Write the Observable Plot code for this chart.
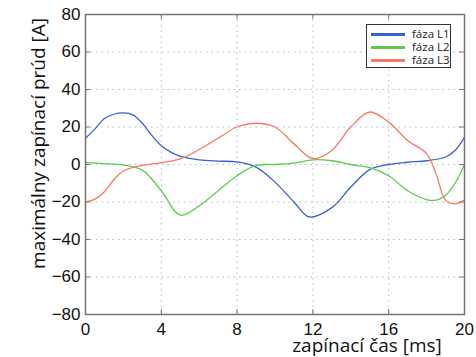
<!DOCTYPE html>
<html>
<head>
<meta charset="utf-8">
<script src="https://cdn.jsdelivr.net/npm/d3@7"></script>
<script src="https://cdn.jsdelivr.net/npm/@observablehq/plot@0.6"></script>
<style>
  html, body { margin: 0; padding: 0; background: #fff; }
  #wrap { position: relative; width: 476px; height: 357px; }
  #legend { position: absolute; left: 366px; top: 24px; width: 85px; height: 44px;
    border: 1px solid #333; background: #fff; font-family: "Open Sans", sans-serif; font-size: 11.5px; color: #222; box-sizing: border-box; }
  .row { position: absolute; left: 4px; height: 13px; line-height: 13px; white-space: nowrap; }
  .sw { display: inline-block; width: 34px; height: 3px; vertical-align: middle; margin-right: 7px; }
</style>
</head>
<body>
<div id="wrap"></div>
<script>
const time1 = [0, 0.5, 1, 1.5, 2, 2.5, 3, 3.5, 4, 4.5, 5, 6, 7, 8, 9, 10, 11, 11.8, 13, 14, 15, 16, 17, 18, 19, 19.5, 20];
const faza1 = [14, 19, 24.5, 26.8, 27.5, 26.5, 22, 15.5, 10, 6.6, 4.3, 2.5, 1.8, 1.4, -1.4, -9.4, -20, -28, -23, -12, -2.7, 0, 1.2, 2, 4, 7.5, 14.5];
const time2 = [0, 1, 2, 3, 4, 5, 6, 7, 8, 9, 10, 11, 12, 13, 14, 15, 16, 17, 18, 18.5, 19, 19.5, 20];
const faza2 = [1, 0.5, -0.3, -3, -14, -27, -22, -14, -6, -0.5, 0, 0.7, 2.5, 2, 0, -1.7, -6, -14, -18.7, -19, -16.5, -10, 0];
const time3 = [0, 0.5, 1, 1.5, 2, 2.5, 3, 4, 5, 6, 7, 8, 9, 10, 11, 12, 13, 14, 15, 16, 17, 18, 18.5, 19, 19.5, 20];
const faza3 = [-20, -18.5, -14.5, -8, -3.5, -1.5, -0.5, 1, 3, 8, 14, 20, 22, 20, 11, 3.2, 7.5, 20, 28, 22.6, 12.8, 5.8, -5, -19, -21, -19];
const seriesNames = ["fáza L1", "fáza L2", "fáza L3"];
const seriesColors = ["#3b61d1", "#5fc94c", "#fa7860"];
const xTicks = [0, 4, 8, 12, 16, 20];
const yTicks = [-80, -60, -40, -20, 0, 20, 40, 60, 80];

const rows = [];
[[time1, faza1], [time2, faza2], [time3, faza3]].forEach(([ts, arr], i) =>
  arr.forEach((v, j) => rows.push({t: ts[j], v, s: seriesNames[i]})));

const gridColor = "#9fbfd0";
const frameColor = "#7d6f6b";

const chart = Plot.plot({
  width: 476,
  height: 357,
  marginLeft: 85,
  marginRight: 12,
  marginTop: 14,
  marginBottom: 43,
  style: {fontFamily: "'Liberation Sans', Arial, sans-serif", fontSize: "15px", color: "#111", background: "#fff"},
  x: {domain: [0, 20], ticks: xTicks},
  y: {domain: [-80, 80], ticks: yTicks},
  color: {domain: seriesNames, range: seriesColors},
  marks: [
    Plot.gridX(xTicks.slice(1, -1), {stroke: gridColor, strokeOpacity: 1, strokeDasharray: "1.5,4"}),
    Plot.gridY(yTicks.slice(1, -1), {stroke: gridColor, strokeOpacity: 1, strokeDasharray: "1.5,4"}),
    Plot.tickX(xTicks, {x: d => d, insetTop: 295, stroke: frameColor}),
    Plot.tickX(xTicks, {x: d => d, insetBottom: 295, stroke: frameColor}),
    Plot.tickY(yTicks, {y: d => d, insetRight: 374, stroke: frameColor}),
    Plot.tickY(yTicks, {y: d => d, insetLeft: 374, stroke: frameColor}),
    Plot.line(rows, {x: "t", y: "v", z: "s", stroke: "s", strokeWidth: 1.3, curve: "catmull-rom"}),
    Plot.frame({stroke: frameColor, strokeWidth: 1.5}),
    Plot.axisX(xTicks, {tickSize: 0, tickPadding: 8, fontSize: 17, label: null}),
    Plot.axisY(yTicks, {tickSize: 0, tickPadding: 5, fontSize: 17, label: null, tickFormat: d => String(d).replace("-", "\u2212")}),
    Plot.text(["zapínací čas [ms]"], {frameAnchor: "bottom", dx: 92, dy: 37, textAnchor: "middle", fontSize: 19, fontFamily: "'Open Sans', sans-serif"}),
    Plot.text(["maximálny zapínací prúd [A]"], {frameAnchor: "left", dx: -47, dy: -21, rotate: -90, textAnchor: "middle", fontSize: 19, fontFamily: "'Open Sans', sans-serif"})
  ]
});
chart.style.overflow = "visible";
const wrap = document.getElementById("wrap");
wrap.appendChild(chart);

const legend = document.createElement("div");
legend.id = "legend";
seriesNames.forEach((n, i) => {
  const r = document.createElement("div");
  r.className = "row";
  r.style.top = (2 + i * 13) + "px";
  r.innerHTML = `<span class="sw" style="background:${seriesColors[i]}"></span>${n}`;
  legend.appendChild(r);
});
wrap.appendChild(legend);
</script>
</body>
</html>
